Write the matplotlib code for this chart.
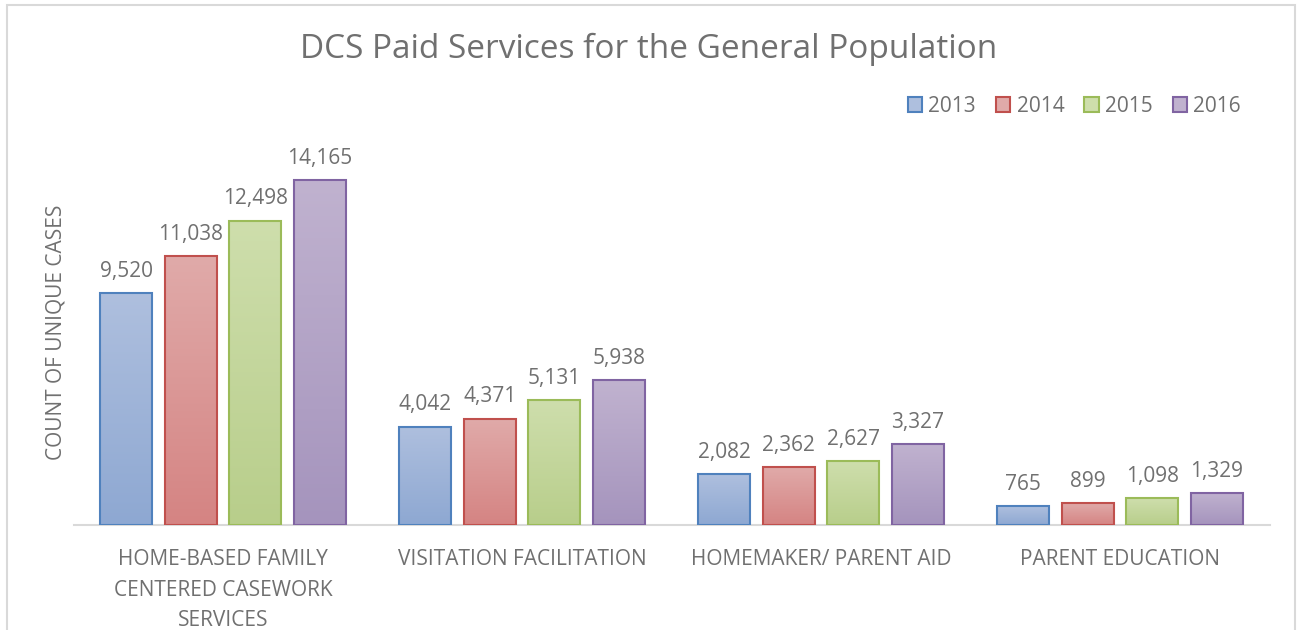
import numpy as np
import matplotlib
matplotlib.use("Agg")
import matplotlib.pyplot as plt
from matplotlib.patches import Patch, Rectangle
from matplotlib.colors import to_rgb

categories = ["HOME-BASED FAMILY\nCENTERED CASEWORK\nSERVICES",
              "VISITATION FACILITATION",
              "HOMEMAKER/ PARENT AID",
              "PARENT EDUCATION"]
years = ["2013", "2014", "2015", "2016"]
v2013 = [9520, 4042, 2082, 765]
v2014 = [11038, 4371, 2362, 899]
v2015 = [12498, 5131, 2627, 1098]
v2016 = [14165, 5938, 3327, 1329]
series = [v2013, v2014, v2015, v2016]

edge_colors = ["#4F81BD", "#C0504D", "#9BBB59", "#8064A2"]
top_colors = ["#AEBFDE", "#E0AAA9", "#CEDEAC", "#C0B2CF"]
bot_colors = ["#8EA8D2", "#D58483", "#B8CE8B", "#A594BD"]

TXT = "#707070"
FONT = "Open Sans"
plt.rcParams["font.family"] = [FONT, "DejaVu Sans"]

W, H = 1297, 630
fig = plt.figure(figsize=(W / 100, H / 100), dpi=100)
ax = fig.add_axes([73.5 / W, 1 - 525 / H, (1269.5 - 73.5) / W, (525 - 135.3) / H])

x = np.arange(len(categories))
step = 0.2157
bw = 0.174
for i, (vals, ec, tc, bc) in enumerate(zip(series, edge_colors, top_colors, bot_colors)):
    pos = x + (i - 1.5) * step
    bars = ax.bar(pos, vals, width=bw, facecolor="none", edgecolor=ec,
                  linewidth=1.5, zorder=3)
    grad = np.linspace(0, 1, 64)[:, None, None]
    img = (1 - grad) * np.array(to_rgb(tc)) + grad * np.array(to_rgb(bc))
    for b, v in zip(bars, vals):
        x0 = b.get_x()
        im = ax.imshow(img, extent=[x0, x0 + b.get_width(), 0, v],
                       aspect="auto", origin="upper", zorder=2,
                       interpolation="bilinear")
        im.set_clip_path(b)
        ax.annotate(f"{v:,}", (b.get_x() + b.get_width() / 2, v),
                    xytext=(0, 8), textcoords="offset points",
                    ha="center", va="bottom", fontsize=15, color=TXT)

ax.set_xlim(-0.5, 3.5)
ax.set_ylim(0, 16000)
for s in ["top", "right", "left"]:
    ax.spines[s].set_visible(False)
ax.spines["bottom"].set_color("#D9D9D9")
ax.spines["bottom"].set_linewidth(1.5)
ax.spines["bottom"].set_zorder(1)
ax.set_yticks([])
ax.set_xticks(x)
ax.set_xticklabels(categories, fontsize=15, color=TXT, linespacing=1.62, va="top")
ax.tick_params(axis="x", length=0, pad=17)

fig.text(0.5, 1 - 49 / H, "DCS Paid Services for the General Population",
         ha="center", va="center", fontsize=24, color=TXT)
fig.text(56 / W, 1 - 332 / H, "COUNT OF UNIQUE CASES", rotation=90,
         ha="center", va="center", fontsize=15, color=TXT)

handles = [Patch(facecolor=tc, edgecolor=ec, linewidth=1.5)
           for tc, ec in zip(top_colors, edge_colors)]
fig.legend(handles, years, loc="center right", ncol=4,
           bbox_to_anchor=(1241 / W, 1 - 106 / H), frameon=False,
           fontsize=15, labelcolor=TXT, handlelength=0.7, handleheight=0.7,
           handletextpad=0.3, columnspacing=0.95, borderaxespad=0, borderpad=0)

fig.add_artist(Rectangle((6.5 / W, -0.05), (1295 - 6.5) / W, (H - 4.5) / H + 0.05,
                         transform=fig.transFigure, fill=False,
                         edgecolor="#D9D9D9", linewidth=1.5))

fig.savefig("out.png", dpi=100)
